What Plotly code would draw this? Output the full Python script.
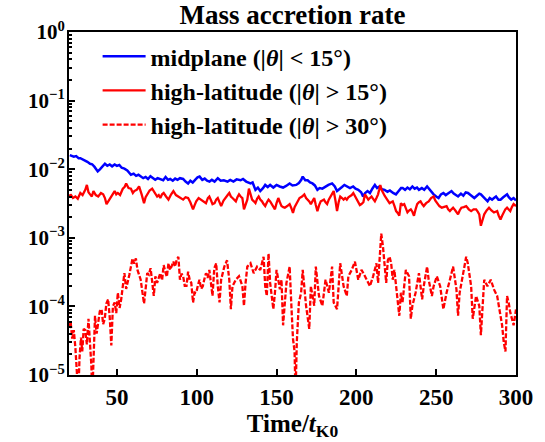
import plotly.graph_objects as go

# ---- data ----
t_mid = [20.5,21.6,23,24.5,26,27.1,28.5,30,31.5,33.2,34.5,36,38,39.5,41,42.5,44,45.5,47,48.6,50,51.5,53,54.7,56.5,58.8,60.5,62,63.5,65,66.5,68,69.5,71,72.5,74,75.5,77.2,79,80.5,82,83.4,85,86.5,88,89.5,91.5,93,94.6,96,97.5,99,100.5,101.8,103.5,105,106.5,108,109.5,111.2,113.2,115,117,119.3,121,123,125,127.5,129,131,133.7,135,136.8,138.3,139.8,141.5,142.9,144.5,146,148,150,152,154.1,156,158.2,160,162.3,164,165.5,166.4,168,169.5,171,172.5,174,175.6,177,178.7,180.5,182.5,184.8,186.5,187.9,189.5,191,192.5,194,196,198,199.5,201.2,203,204.2,205.5,207,208.5,210,211.6,213,214.5,216,217.7,219.5,221,223,224.8,226.5,228,229,230.5,232,233.5,235.1,236.5,238,239.2,241,242.5,244.3,246,247.5,248.4,250,251.5,253,254.5,256,258,259.6,261,262.5,263.7,265.5,267,268.5,269.9,271.5,272.5,273.9,275.5,277,278,279.5,281,282.2,283.5,285,286.2,287.5,289,290.3,292,293.5,294.4,295.5,297,298.5,300]
v_mid = [1.60e-2,1.58e-2,1.52e-2,1.55e-2,1.45e-2,1.45e-2,1.40e-2,1.33e-2,1.28e-2,1.20e-2,1.18e-2,1.08e-2,9.3e-3,1.0e-2,1.10e-2,1.20e-2,1.12e-2,1.17e-2,1.10e-2,1.17e-2,1.12e-2,1.15e-2,1.05e-2,1.02e-2,9.6e-3,8.3e-3,8.6e-3,8.0e-3,8.3e-3,7.8e-3,7.4e-3,7.7e-3,7.2e-3,7.9e-3,7.5e-3,7.0e-3,7.4e-3,7.2e-3,6.9e-3,7.7e-3,7.0e-3,7.2e-3,6.8e-3,7.3e-3,7.0e-3,7.4e-3,7.2e-3,6.6e-3,6.2e-3,6.8e-3,6.4e-3,7.0e-3,7.6e-3,7.8e-3,7.0e-3,7.3e-3,6.8e-3,6.6e-3,7.0e-3,6.6e-3,7.4e-3,6.8e-3,6.9e-3,6.6e-3,7.0e-3,6.6e-3,7.1e-3,6.9e-3,7.2e-3,6.6e-3,6.2e-3,6.4e-3,5.0e-3,5.4e-3,4.8e-3,5.3e-3,5.9e-3,5.5e-3,5.9e-3,5.4e-3,5.9e-3,5.6e-3,5.4e-3,5.7e-3,6.2e-3,5.8e-3,5.9e-3,6.3e-3,7.0e-3,7.8e-3,6.9e-3,6.9e-3,6.4e-3,6.2e-3,5.8e-3,5.0e-3,5.3e-3,5.2e-3,5.6e-3,5.9e-3,6.2e-3,5.6e-3,4.8e-3,5.1e-3,5.5e-3,5.9e-3,5.6e-3,5.3e-3,5.6e-3,5.2e-3,5.0e-3,4.6e-3,4.0e-3,4.5e-3,4.8e-3,4.5e-3,5.2e-3,5.9e-3,5.3e-3,5.6e-3,5.1e-3,5.0e-3,4.7e-3,4.9e-3,4.5e-3,4.3e-3,4.8e-3,5.3e-3,5.3e-3,5.0e-3,5.4e-3,5.1e-3,5.6e-3,5.2e-3,5.4e-3,5.0e-3,5.3e-3,5.0e-3,5.6e-3,5.0e-3,4.6e-3,4.3e-3,4.0e-3,3.8e-3,4.3e-3,4.5e-3,4.2e-3,4.6e-3,4.8e-3,4.4e-3,4.2e-3,4.0e-3,4.4e-3,4.1e-3,4.6e-3,4.5e-3,4.2e-3,4.0e-3,3.8e-3,4.1e-3,4.4e-3,4.3e-3,4.0e-3,3.7e-3,3.4e-3,3.8e-3,3.6e-3,3.8e-3,4.0e-3,3.6e-3,3.6e-3,3.9e-3,4.1e-3,4.3e-3,3.9e-3,3.6e-3,3.8e-3,3.5e-3]

t_hl15 = [20.5,21,22.5,24,25.5,27.1,28.5,30.2,31.2,32.2,33.2,34.3,35.3,36.8,38.3,40,41.4,42.5,43.5,44.5,45.5,47,48.6,49.6,50.6,52,53.7,54.8,55.8,57.3,58.8,60,60.9,62.4,63.9,65.5,67,68,69,70.5,72.1,73.6,75.2,76.2,77.2,78.3,79.3,80.8,82.3,84,85.4,87,88.5,90,91.5,93,94.6,96,97.7,98.7,99.7,101.2,102.8,104.3,105.8,107,107.9,109,109.9,111.2,112.2,113.2,114.3,115.3,116.8,118.4,119.4,120.4,121.4,122.4,123.5,124.5,125.5,126.5,127.5,128.6,129.6,130.7,131.7,132.7,133.7,134.7,135.8,136.8,137.8,138.8,139.8,140.9,141.9,142.9,144,145,146,147,148,149,150,151.1,152.1,153.1,154.2,155.2,156.7,158.2,159.3,160.3,161.3,162.3,163.4,164.4,166,167.4,168.5,169.5,170.5,171.5,172.5,173.6,174.6,175.6,176.7,177.7,178.7,179.7,180.7,181.7,182.7,183.8,184.8,185.8,186.9,187.9,188.9,189.9,191,192,193,194,195,196.1,197.1,198.1,199.6,201.2,202.2,203.2,204.4,205.4,206.5,207.5,208.5,209.5,210.5,211.6,212.6,213.6,214.3,215,215.8,216.7,217.7,218.7,219.7,220.8,221.8,222.8,223.9,224.9,225.9,226.9,227.9,229,230,231,232,233,234.1,235.1,236.1,237.1,238.1,239.2,240.2,241.2,242.2,243.7,245.3,246.8,248.4,249.4,250.4,252,253.5,255,256.5,257.5,258.6,259.6,260.6,262,263.7,264.7,265.8,267.3,268.8,270.4,271.9,273.4,275,276,277,277.5,278,279,280.1,281.6,283.1,284.6,286.2,287.2,288.2,289.2,290.3,291.3,292.3,293.3,294.4,295.4,296.4,297.4,298.5,300]
v_hl15 = [4.0e-3,4.3e-3,3.8e-3,4.0e-3,3.7e-3,4.5e-3,4.2e-3,5.0e-3,5.9e-3,4.6e-3,4.3e-3,4.0e-3,4.8e-3,4.2e-3,4.0e-3,4.5e-3,4.3e-3,3.8e-3,3.1e-3,3.4e-3,3.6e-3,4.3e-3,4.8e-3,4.3e-3,4.5e-3,4.2e-3,5.2e-3,5.5e-3,6.2e-3,5.3e-3,5.2e-3,4.5e-3,4.8e-3,5.0e-3,5.6e-3,4.3e-3,3.2e-3,3.9e-3,4.3e-3,4.9e-3,5.2e-3,4.6e-3,4.0e-3,4.2e-3,3.8e-3,4.3e-3,4.5e-3,4.0e-3,3.6e-3,4.3e-3,4.8e-3,4.2e-3,4.0e-3,3.8e-3,3.6e-3,3.9e-3,3.8e-3,3.3e-3,2.6e-3,3.0e-3,3.4e-3,3.8e-3,3.6e-3,3.4e-3,3.2e-3,3.8e-3,4.0e-3,3.5e-3,3.1e-3,3.2e-3,3.6e-3,3.8e-3,3.3e-3,2.9e-3,3.5e-3,4.0e-3,4.2e-3,4.5e-3,4.0e-3,3.8e-3,3.6e-3,3.4e-3,3.9e-3,4.3e-3,4.0e-3,3.8e-3,2.6e-3,3.2e-3,3.6e-3,5.2e-3,4.2e-3,3.6e-3,3.4e-3,3.2e-3,3.7e-3,4.0e-3,3.6e-3,3.4e-3,3.1e-3,2.9e-3,3.3e-3,3.6e-3,3.4e-3,3.1e-3,2.8e-3,2.6e-3,3.2e-3,3.8e-3,3.3e-3,2.9e-3,2.8e-3,2.75e-3,2.9e-3,3.1e-3,2.7e-3,2.3e-3,2.8e-3,3.1e-3,3.5e-3,3.8e-3,4.0e-3,4.3e-3,3.8e-3,3.6e-3,3.4e-3,3.1e-3,3.5e-3,3.8e-3,3.0e-3,2.45e-3,3.0e-3,3.4e-3,3.5e-3,3.6e-3,3.3e-3,3.1e-3,3.6e-3,4.0e-3,4.5e-3,4.8e-3,3.5e-3,2.45e-3,3.3e-3,4.0e-3,3.8e-3,3.6e-3,3.8e-3,3.6e-3,3.9e-3,4.0e-3,4.2e-3,4.5e-3,3.9e-3,3.2e-3,3.0e-3,3.1e-3,3.3e-3,4.3e-3,3.9e-3,3.6e-3,3.8e-3,4.0e-3,3.7e-3,3.4e-3,3.8e-3,4.3e-3,5.0e-3,5.9e-3,5.0e-3,4.5e-3,4.1e-3,3.8e-3,3.5e-3,3.2e-3,3.3e-3,3.4e-3,2.9e-3,2.45e-3,2.3e-3,2.1e-3,3.2e-3,3.0e-3,3.1e-3,2.7e-3,2.35e-3,2.5e-3,2.6e-3,2.4e-3,2.1e-3,2.6e-3,3.1e-3,3.3e-3,3.4e-3,3.1e-3,2.9e-3,3.2e-3,3.4e-3,3.8e-3,4.0e-3,3.5e-3,3.2e-3,2.9e-3,2.75e-3,2.8e-3,2.9e-3,2.6e-3,2.45e-3,2.6e-3,2.75e-3,2.5e-3,2.2e-3,2.5e-3,2.75e-3,2.8e-3,2.9e-3,2.6e-3,2.45e-3,2.6e-3,2.6e-3,2.4e-3,2.2e-3,1.8e-3,1.5e-3,1.8e-3,2.2e-3,2.5e-3,2.75e-3,2.5e-3,2.35e-3,2.4e-3,2.45e-3,2.1e-3,1.85e-3,2.1e-3,2.35e-3,2.6e-3,2.75e-3,2.6e-3,2.45e-3,2.8e-3,3.1e-3,2.9e-3]

t_hl30 = [20.3,21,22,23,24,25,25.8,26.6,27.5,28.3,29.2,30.2,31.2,32.2,33.2,34,34.6,35.5,36.3,37.3,38.3,39.3,40.4,41.4,42.4,43.4,44.5,45.5,46.5,47.5,48.6,49.6,50.6,51.7,52.7,53.7,54.7,55.8,56.8,57.8,58.8,59.8,60.8,61.9,62.9,63.9,64.9,66,67,68,69,70,71.1,72.1,73.1,74.1,75.2,76.2,77.2,78.3,79.3,80.3,81.3,82.3,83.3,84.4,85.4,86.4,87.4,88.5,89.5,90.5,91.5,92.5,93.6,94.6,95.6,96.6,97.7,98.7,99.7,100.7,101.7,102.8,103.8,104.8,105.8,106.8,107.9,108.9,109.9,111,112.2,113.2,114.3,115.3,116.3,117.3,119,120.4,121.4,122.4,124.5,126.5,128.6,129.6,130.6,131.7,133.7,135.7,137.8,139.8,141.9,142.9,143.9,145,146,148,149,150,151.1,152.1,153.1,154.1,156.2,158.2,159.3,160.3,161.3,161.9,162.7,164,165.4,166.4,168.5,170.5,171.5,173.6,174.6,176.6,178.7,180.7,182.8,184.8,185.8,187.9,189.9,192,194,195,197.1,199.1,201.2,203.2,204.4,206.4,208.5,210.5,212.6,213.6,214.6,215.6,216.7,217.7,218.7,219.7,220.8,221.8,222.8,223.8,224.9,226.9,227.9,228.9,231,233,234.1,235.1,237.1,239.2,241.2,242.2,244.3,245.3,247.3,248.4,250.4,252.5,254.5,256.5,258.6,260.6,262.7,263.7,264.7,266.8,268.8,269.8,271.9,272.9,275,277,278,280.1,282.1,284.2,286.2,288.2,290.3,291.3,292.3,293.4,294.4,295.4,296.4,297.5,298.5,300]
v_hl30 = [5.0e-5,6.0e-5,3.4e-5,4.5e-5,2.5e-5,1.2e-5,5e-6,1.8e-5,3.5e-5,2.2e-5,4.7e-5,4.5e-5,2.8e-5,6.6e-5,3.0e-5,1.4e-5,5e-6,2.0e-5,7.3e-5,4.0e-5,6.0e-5,8.5e-5,9.1e-5,5.5e-5,6.6e-5,1.1e-4,1.27e-4,7.0e-5,2.7e-5,1.0e-4,1.14e-4,8.0e-5,1.58e-4,9.5e-5,1.27e-4,1.97e-4,3.05e-4,1.8e-4,2.2e-4,2.9e-4,3.8e-4,5.0e-4,4.2e-4,5.0e-4,3.4e-4,2.8e-4,2.45e-4,1.6e-4,1.1e-4,1.8e-4,3.05e-4,2.9e-4,3.6e-4,2.3e-4,1.42e-4,2.75e-4,2.2e-4,2.6e-4,3.05e-4,2.4e-4,4.0e-4,3.2e-4,2.7e-4,4.25e-4,3.4e-4,3.9e-4,4.5e-4,3.8e-4,4.7e-4,5.3e-4,2.45e-4,3.0e-4,2.75e-4,2.0e-4,2.0e-4,3.2e-4,2.45e-4,2.2e-4,1.14e-4,1.6e-4,1.58e-4,2.0e-4,2.45e-4,1.8e-4,1.97e-4,2.5e-4,3.05e-4,2.6e-4,3.4e-4,2.2e-4,1.42e-4,3.6e-4,4.25e-4,1.97e-4,1.14e-4,2.45e-4,3.2e-4,3.8e-4,4.7e-4,2.45e-4,9.1e-5,1.97e-4,2.45e-4,2.75e-4,1.97e-4,1.02e-4,2.2e-4,3.8e-4,4.25e-4,3.05e-4,3.8e-4,3.4e-4,5.3e-4,1.97e-4,1.42e-4,5.9e-4,2.2e-4,9.1e-5,1.58e-4,3.4e-4,2.45e-4,1.77e-4,2.45e-4,5.3e-5,2.2e-4,3.8e-4,1.02e-4,3.4e-5,2.2e-5,5e-6,3.05e-5,1.14e-4,1.58e-4,3.4e-4,1.02e-4,4.7e-5,1.97e-4,1.02e-4,3.8e-4,1.42e-4,1.02e-4,2.45e-4,1.58e-4,3.8e-4,1.14e-4,9.1e-5,4.25e-4,1.97e-4,1.42e-4,2.75e-4,3.4e-4,4.5e-4,2.45e-4,3.4e-4,3.05e-4,2.45e-4,1.97e-4,2.75e-4,4.25e-4,2.2e-4,5.3e-4,1.15e-3,7.3e-4,3.6e-4,2.2e-4,4.7e-4,5.3e-4,4.25e-4,2.45e-4,3.4e-4,1.97e-4,7.3e-5,1.58e-4,1.14e-4,3.4e-4,2.75e-4,6.6e-5,1.02e-4,1.58e-4,3.05e-4,1.27e-4,1.97e-4,3.8e-4,2.45e-4,1.42e-4,1.97e-4,2.75e-4,1.97e-4,9.1e-5,1.58e-4,2.45e-4,3.8e-4,1.77e-4,7.3e-5,1.58e-4,3.05e-4,5.3e-4,4.25e-4,1.97e-4,6.6e-5,1.42e-4,1.02e-4,3.8e-5,2.45e-4,1.97e-4,2.45e-4,1.77e-4,1.42e-4,6.6e-5,5.3e-5,3.05e-5,2.2e-5,1.42e-4,1.14e-4,8.2e-5,6.6e-5,5.3e-5,9.0e-5]

names = ["<b>midplane (|<i>θ</i>| &lt; 15°)</b>",
         "<b>high-latitude (|<i>θ</i>| &gt; 15°)</b>",
         "<b>high-latitude (|<i>θ</i>| &gt; 30°)</b>"]

y_tickvals = [1e-5, 1e-4, 1e-3, 1e-2, 1e-1, 1e0]
y_ticktext = ["<b>10<sup>−5</sup></b>", "<b>10<sup>−4</sup></b>", "<b>10<sup>−3</sup></b>",
              "<b>10<sup>−2</sup></b>", "<b>10<sup>−1</sup></b>", "<b>10<sup>0</sup></b>"]
x_tickvals = [50, 100, 150, 200, 250, 300]
x_ticktext = ["<b>%d</b>" % v for v in x_tickvals]

FONT = "Liberation Serif"

fig = go.Figure()
fig.add_trace(go.Scatter(x=t_mid, y=v_mid, mode="lines", name=names[0], legendgroup="a",
                         line=dict(color="#0000ff", width=2.5)))
fig.add_trace(go.Scatter(x=t_hl15, y=v_hl15, mode="lines", name=names[1], legendgroup="b",
                         line=dict(color="#ff0000", width=2.3)))
fig.add_trace(go.Scatter(x=t_hl30, y=v_hl30, mode="lines", name=names[2], legendgroup="c",
                         line=dict(color="#ff0000", width=2.3, dash="5px,2px")))

minor_vals = [m * 10.0 ** e for e in range(-5, 0) for m in range(2, 10)]

fig.update_layout(
    width=545, height=442,
    margin=dict(l=69, r=20, t=32, b=60),
    paper_bgcolor="white", plot_bgcolor="white",
    font=dict(family=FONT, size=20, color="black"),
    title=dict(text="<b>Mass accretion rate</b>", x=0.5, xref="paper", xanchor="center",
               y=1 - 15 / 442, yref="container", yanchor="middle",
               font=dict(family=FONT, size=27, color="black")),
    showlegend=True,
    legend=dict(x=0.064, y=0.994, xanchor="left", yanchor="top", bgcolor="rgba(0,0,0,0)",
                font=dict(family=FONT, size=24, color="black"),
                traceorder="grouped", tracegroupgap=0, itemwidth=43),
    xaxis=dict(range=[20, 300], tickmode="array", tickvals=x_tickvals, ticktext=x_ticktext,
               ticks="inside", ticklen=6, tickwidth=2, tickcolor="black",
               tickfont=dict(family=FONT, size=23),
               showline=True, linecolor="black", linewidth=2, mirror=True,
               showgrid=False, zeroline=False,
               title=dict(text="<b>Time/<i>t</i><sub>K0</sub></b>", standoff=3,
                          font=dict(family=FONT, size=25))),
    yaxis=dict(type="log", range=[-5, 0], tickmode="array", tickvals=y_tickvals, ticktext=y_ticktext,
               ticks="inside", ticklen=6, tickwidth=2, tickcolor="black",
               tickfont=dict(family=FONT, size=21),
               ticklabelstandoff=-2,
               minor=dict(tickmode="array", tickvals=minor_vals, ticks="inside", ticklen=3,
                          tickwidth=1.5, tickcolor="black", showgrid=False),
               showline=True, linecolor="black", linewidth=2, mirror=True,
               showgrid=False, zeroline=False),
)

fig.write_html("out.html")
